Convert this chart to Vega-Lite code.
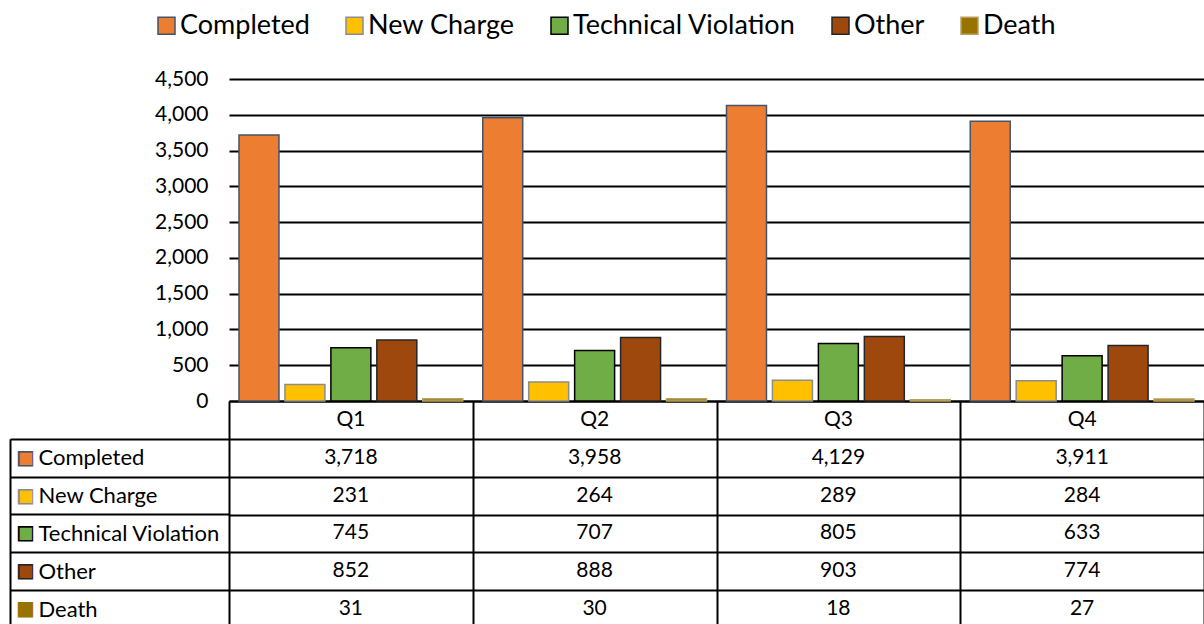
{
  "$schema": "https://vega.github.io/schema/vega-lite/v6.json",
  "width": 975,
  "height": 549,
  "autosize": {"type": "none"},
  "padding": {"left": 229, "top": 79, "right": 0, "bottom": 0},
  "background": "white",
  "config": {"view": {"stroke": null}, "font": "Lato"},
  "data": {
    "values": [
      {"quarter": "Q1", "series": "Completed", "value": 3718},
      {"quarter": "Q1", "series": "New Charge", "value": 231},
      {"quarter": "Q1", "series": "Technical Violation", "value": 745},
      {"quarter": "Q1", "series": "Other", "value": 852},
      {"quarter": "Q1", "series": "Death", "value": 31},
      {"quarter": "Q2", "series": "Completed", "value": 3958},
      {"quarter": "Q2", "series": "New Charge", "value": 264},
      {"quarter": "Q2", "series": "Technical Violation", "value": 707},
      {"quarter": "Q2", "series": "Other", "value": 888},
      {"quarter": "Q2", "series": "Death", "value": 30},
      {"quarter": "Q3", "series": "Completed", "value": 4129},
      {"quarter": "Q3", "series": "New Charge", "value": 289},
      {"quarter": "Q3", "series": "Technical Violation", "value": 805},
      {"quarter": "Q3", "series": "Other", "value": 903},
      {"quarter": "Q3", "series": "Death", "value": 18},
      {"quarter": "Q4", "series": "Completed", "value": 3911},
      {"quarter": "Q4", "series": "New Charge", "value": 284},
      {"quarter": "Q4", "series": "Technical Violation", "value": 633},
      {"quarter": "Q4", "series": "Other", "value": 774},
      {"quarter": "Q4", "series": "Death", "value": 27}
    ]
  },
  "layer": [
    {
      "mark": {"type": "bar", "strokeWidth": 1.5},
      "encoding": {
        "x": {"field": "quarter", "type": "nominal", "scale": {"type": "band", "paddingInner": 0.082, "paddingOuter": 0.041}, "axis": null},
        "xOffset": {"field": "series", "type": "nominal", "scale": {"domain": ["Completed", "New Charge", "Technical Violation", "Other", "Death"], "paddingInner": 0.13, "paddingOuter": 0}},
        "y": {
          "field": "value", "type": "quantitative",
          "scale": {"domain": [0, 4500], "range": [322, 0], "nice": false},
          "axis": {"values": [0, 500, 1000, 1500, 2000, 2500, 3000, 3500, 4000, 4500], "labelExpr": "format(datum.value, ',.0f')", "grid": true, "gridColor": "#000", "gridWidth": 2, "domain": false, "ticks": false, "labelPadding": 21, "labelFontSize": 21, "labelFont": "Lato", "labelColor": "#000", "title": null}
        },
        "fill": {
          "field": "series", "type": "nominal",
          "scale": {"domain": ["Completed", "New Charge", "Technical Violation", "Other", "Death"], "range": ["#ED7D31", "#FFC000", "#70AD47", "#9E480E", "#997300"]},
          "legend": {"orient": "none", "legendX": -76, "legendY": -67, "direction": "horizontal", "columns": 5, "title": null, "symbolType": "square", "symbolSize": 289, "symbolStrokeWidth": 1.5, "labelFontSize": 27, "labelFont": "Lato", "labelColor": "#000", "labelOffset": 0, "columnPadding": 31, "labelLimit": 400}
        },
        "stroke": {
          "field": "series", "type": "nominal",
          "scale": {"domain": ["Completed", "New Charge", "Technical Violation", "Other", "Death"], "range": ["#44546A", "#8C8C8C", "#000000", "#262626", "#B8A060"]},
          "legend": {"orient": "none", "legendX": -76, "legendY": -67, "direction": "horizontal", "columns": 5, "title": null, "symbolType": "square", "symbolSize": 289, "symbolStrokeWidth": 1.5, "labelFontSize": 27, "labelFont": "Lato", "labelColor": "#000", "labelOffset": 0, "columnPadding": 31, "labelLimit": 400}
        }
      }
    },
    {
      "mark": {"type": "text", "fontSize": 21, "font": "Lato", "color": "#000"},
      "encoding": {
        "x": {"field": "quarter", "type": "nominal", "scale": {"type": "band", "padding": 0}, "axis": {"orient": "bottom", "labels": false, "domain": false, "grid": false, "ticks": true, "tickBand": "extent", "tickSize": -227, "tickColor": "#000", "tickWidth": 2, "title": null}},
        "y": {"field": "series", "type": "nominal", "scale": {"type": "band", "domain": ["Quarter", "Completed", "New Charge", "Technical Violation", "Other", "Death"], "range": [322, 549], "padding": 0}, "axis": {"labels": false, "domain": false, "ticks": false, "grid": true, "tickBand": "extent", "gridColor": "#000", "gridWidth": 2, "title": null}},
        "text": {"field": "value", "type": "quantitative", "format": ","}
      }
    },
    {
      "transform": [{"filter": "datum.series == 'Completed'"}],
      "mark": {"type": "text", "fontSize": 21, "font": "Lato", "color": "#000"},
      "encoding": {
        "x": {"field": "quarter", "type": "nominal", "scale": {"type": "band", "padding": 0}, "axis": null},
        "y": {"datum": "Quarter", "type": "nominal", "scale": {"type": "band", "domain": ["Quarter", "Completed", "New Charge", "Technical Violation", "Other", "Death"], "range": [322, 549], "padding": 0}, "axis": null},
        "text": {"field": "quarter", "type": "nominal"}
      }
    },
    {
      "transform": [{"filter": "datum.quarter == 'Q1'"}],
      "mark": {"type": "text", "text": "", "opacity": 0},
      "encoding": {
        "y": {"field": "series", "type": "nominal", "scale": {"type": "band", "domain": ["Completed", "New Charge", "Technical Violation", "Other", "Death"], "range": [359.83, 549], "padding": 0}, "axis": {"orient": "left", "offset": 219, "title": null, "domain": true, "domainColor": "#000", "domainWidth": 2, "ticks": true, "tickBand": "extent", "tickSize": -219, "tickColor": "#000", "tickWidth": 2, "labelAlign": "left", "labelPadding": 191, "labelFontSize": 22, "labelFont": "Lato", "labelColor": "#000", "labelLimit": 300, "grid": false}}
      }
    },
    {
      "transform": [{"filter": "datum.quarter == 'Q1'"}],
      "mark": {"type": "text", "text": "", "opacity": 0},
      "encoding": {
        "y": {"field": "series", "type": "nominal", "scale": {"type": "band", "domain": ["Completed", "New Charge", "Technical Violation", "Other", "Death"], "range": [359.83, 549], "padding": 0}, "axis": {"orient": "left", "offset": 219, "title": null, "domain": false, "ticks": false, "grid": false, "labelExpr": "'■'", "labelAlign": "center", "labelPadding": -15, "labelFontSize": 20, "labelFont": "DejaVu Sans", "labelColor": {"expr": "datum.value == 'Completed' ? '#44546A' : datum.value == 'New Charge' ? '#8C8C8C' : datum.value == 'Technical Violation' ? '#000000' : datum.value == 'Other' ? '#262626' : '#997300'"}}}
      }
    },
    {
      "transform": [{"filter": "datum.quarter == 'Q1'"}],
      "mark": {"type": "text", "text": "", "opacity": 0},
      "encoding": {
        "y": {"field": "series", "type": "nominal", "scale": {"type": "band", "domain": ["Completed", "New Charge", "Technical Violation", "Other", "Death"], "range": [359.83, 549], "padding": 0}, "axis": {"orient": "left", "offset": 219, "title": null, "domain": false, "ticks": false, "grid": false, "labelExpr": "'■'", "labelAlign": "center", "labelPadding": -15, "labelFontSize": 16, "labelFont": "DejaVu Sans", "labelColor": {"expr": "datum.value == 'Completed' ? '#ED7D31' : datum.value == 'New Charge' ? '#FFC000' : datum.value == 'Technical Violation' ? '#70AD47' : datum.value == 'Other' ? '#9E480E' : '#997300'"}}}
      }
    }
  ],
  "resolve": {"scale": {"x": "independent", "y": "independent"}, "axis": {"x": "independent", "y": "independent"}}
}
